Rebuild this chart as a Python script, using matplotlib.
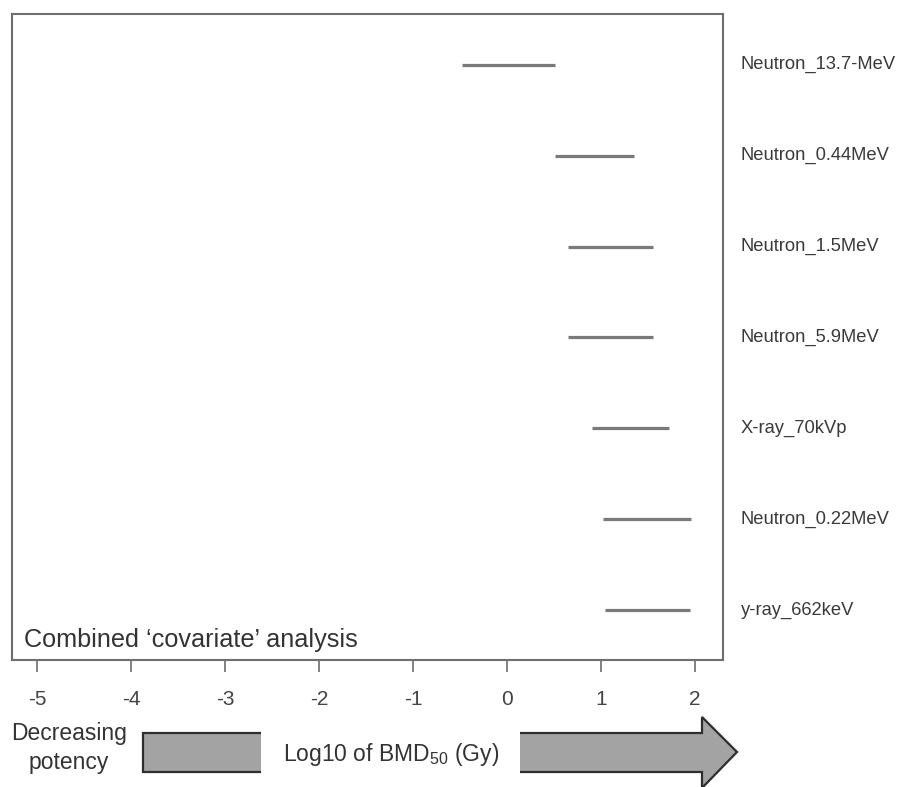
import matplotlib
matplotlib.use("Agg")
import matplotlib.pyplot as plt
from matplotlib.patches import Polygon, Rectangle

plt.rcParams["font.family"] = ["Liberation Sans", "DejaVu Sans"]
plt.rcParams["mathtext.fontset"] = "custom"
plt.rcParams["mathtext.rm"] = "Liberation Sans"

# BMD50 intervals on log10 scale (Gy), listed top to bottom
radiations = ["Neutron_13.7-MeV", "Neutron_0.44MeV", "Neutron_1.5MeV",
              "Neutron_5.9MeV", "X-ray_70kVp", "Neutron_0.22MeV", "y-ray_662keV"]
lower = [-0.48, 0.51, 0.65, 0.65, 0.90, 1.02, 1.04]
upper = [0.51, 1.35, 1.55, 1.56, 1.73, 1.96, 1.95]
xticks = [-5, -4, -3, -2, -1, 0, 1, 2]

W, H = 899, 787
fig = plt.figure(figsize=(W / 100, H / 100), dpi=100)
ax = fig.add_axes([12 / W, 1 - 660 / H, (723 - 12) / W, (660 - 14) / H])

n = len(radiations)
ypos = list(range(n, 0, -1))
ax.hlines(ypos, lower, upper, color="#7a7a7a", lw=2.3)
for y, name in zip(ypos, radiations):
    ax.text(1.025, y, name, transform=ax.get_yaxis_transform(),
            ha="left", va="center", fontsize=13.2, color="#3a3a3a")

ax.set_xlim(-5.27, 2.30)
ax.set_ylim(0.45, n + 0.56)
ax.set_xticks(xticks)
ax.set_xticklabels([str(t) for t in xticks])
ax.set_yticks([])
ax.tick_params(axis="x", direction="out", length=8.5, width=1.3,
               color="#777777", labelsize=15, labelcolor="#444444", pad=13)
for s in ax.spines.values():
    s.set_color("#6e6e6e")
    s.set_linewidth(1.5)

ax.text(0.017, 0.012, "Combined \u2018covariate\u2019 analysis", transform=ax.transAxes,
        ha="left", va="bottom", fontsize=18.2, color="#333333")

# potency arrow along the bottom, in figure pixels
def fp(x, y):
    return (x / W, 1 - y / H)

arrow = Polygon([fp(143, 733), fp(702, 733), fp(702, 717), fp(737, 752),
                 fp(702, 788), fp(702, 772), fp(143, 772)],
                closed=True, transform=fig.transFigure, facecolor="#a3a3a3",
                edgecolor="#2e2e2e", lw=1.6)
fig.patches.append(arrow)
x0, y0 = fp(261, 778)
x1, y1 = fp(520, 727)
fig.patches.append(Rectangle((x0, y0), x1 - x0, y1 - y0, transform=fig.transFigure,
                             facecolor="white", edgecolor="none"))

fig.text(*fp(69, 748), "Decreasing\npotency", ha="center", va="center",
         fontsize=16.5, color="#333333", linespacing=1.3)
fig.text(*fp(283, 754), r"Log10 of BMD$_{\mathrm{50}}$ (Gy)", ha="left", va="center",
         fontsize=16.5, color="#333333")

fig.savefig("out.png", dpi=100)
